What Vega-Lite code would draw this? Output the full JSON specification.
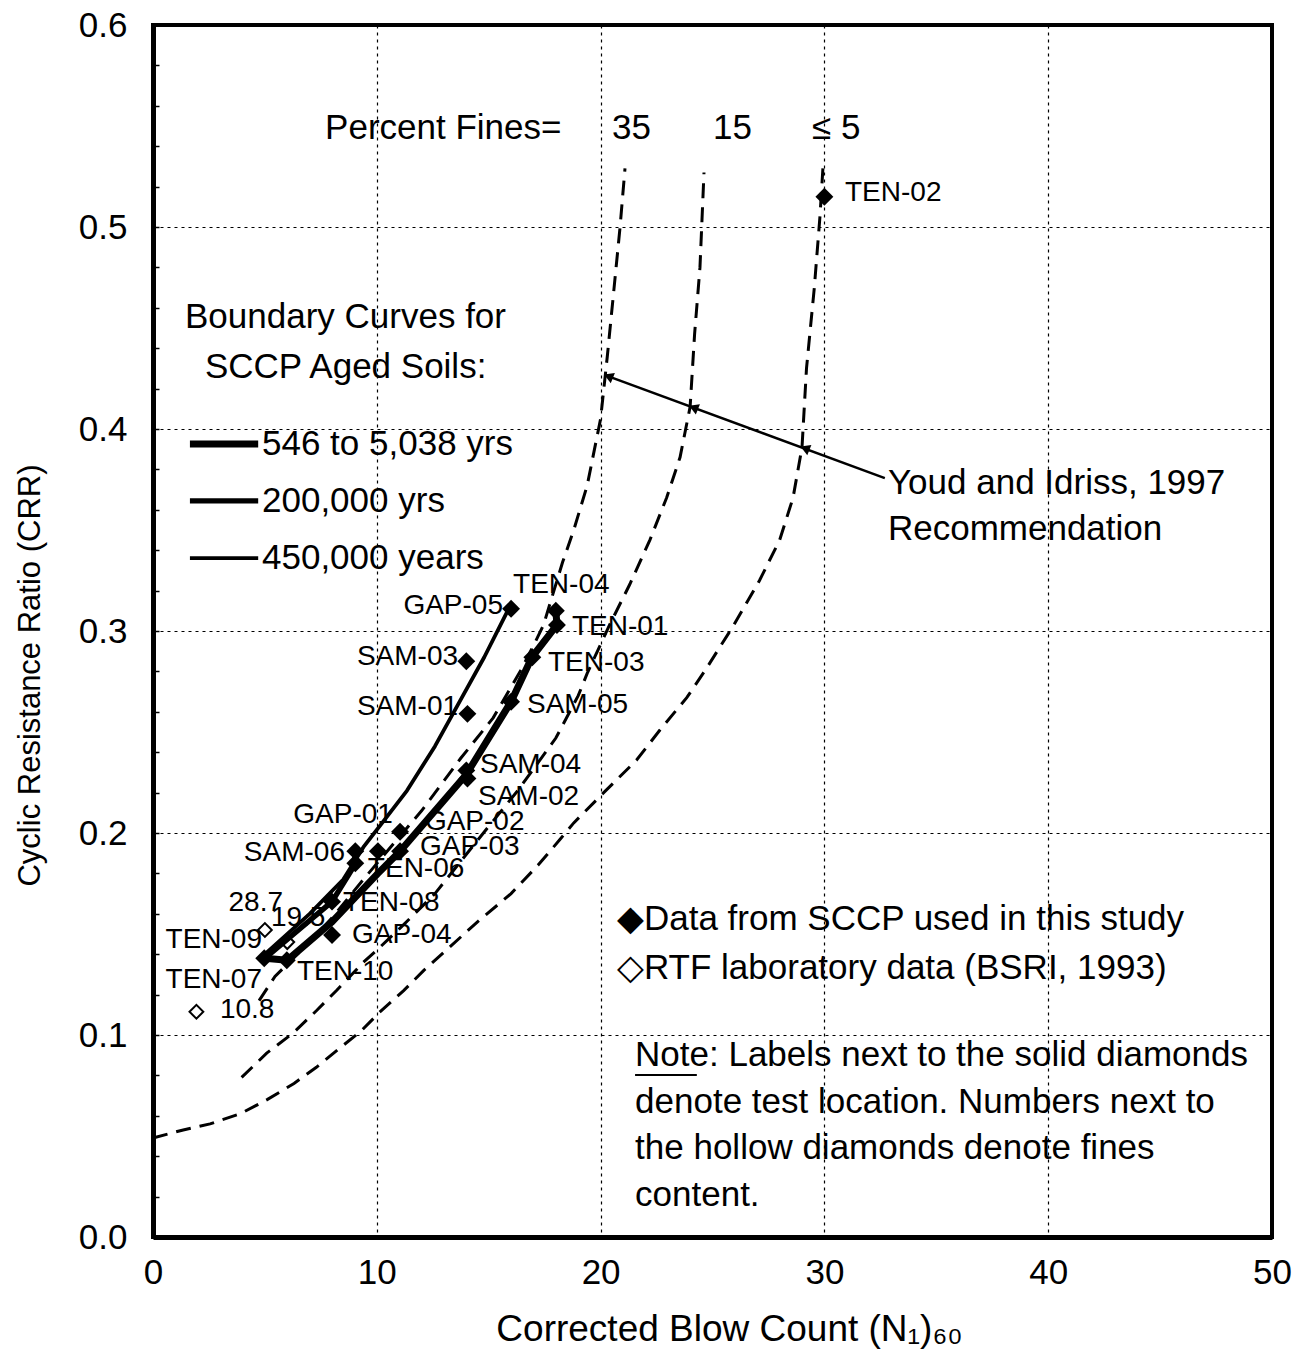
{
  "$schema": "https://vega.github.io/schema/vega-lite/v6.json",
  "width": 1119,
  "height": 1212,
  "autosize": {"type": "none"},
  "padding": {"left": 153, "top": 25, "right": 33, "bottom": 113},
  "background": "white",
  "config": {
    "font": "Liberation Sans",
    "view": {"stroke": "black", "strokeWidth": 4},
    "axis": {
      "domainColor": "black", "domainWidth": 5,
      "labelColor": "black", "titleColor": "black",
      "labelFont": "Liberation Sans", "titleFont": "Liberation Sans",
      "titleFontWeight": "normal",
      "gridColor": "black", "gridDash": [3, 4], "gridWidth": 1.2,
      "tickColor": "black"
    },
    "text": {"font": "Liberation Sans", "baseline": "middle", "color": "black"}
  },
  "datasets": {
    "curves": [
      {"curve": "5", "x": 0, "y": 0.049}, {"curve": "5", "x": 1.35, "y": 0.053}, {"curve": "5", "x": 2.55, "y": 0.056},
      {"curve": "5", "x": 3.9, "y": 0.061}, {"curve": "5", "x": 5.1, "y": 0.068}, {"curve": "5", "x": 6.3, "y": 0.076},
      {"curve": "5", "x": 7.3, "y": 0.084}, {"curve": "5", "x": 8.4, "y": 0.094}, {"curve": "5", "x": 9.3, "y": 0.102},
      {"curve": "5", "x": 10.1, "y": 0.111}, {"curve": "5", "x": 11.2, "y": 0.122}, {"curve": "5", "x": 12.1, "y": 0.132},
      {"curve": "5", "x": 13.2, "y": 0.143}, {"curve": "5", "x": 14.5, "y": 0.156}, {"curve": "5", "x": 16.0, "y": 0.170},
      {"curve": "5", "x": 17.2, "y": 0.184}, {"curve": "5", "x": 18.2, "y": 0.197}, {"curve": "5", "x": 18.8, "y": 0.205},
      {"curve": "5", "x": 20.05, "y": 0.219}, {"curve": "5", "x": 21.6, "y": 0.236}, {"curve": "5", "x": 22.65, "y": 0.251},
      {"curve": "5", "x": 23.85, "y": 0.267}, {"curve": "5", "x": 24.7, "y": 0.281}, {"curve": "5", "x": 25.9, "y": 0.302},
      {"curve": "5", "x": 27.1, "y": 0.325}, {"curve": "5", "x": 28.0, "y": 0.345}, {"curve": "5", "x": 28.6, "y": 0.366},
      {"curve": "5", "x": 29.0, "y": 0.391}, {"curve": "5", "x": 29.2, "y": 0.43}, {"curve": "5", "x": 29.55, "y": 0.47},
      {"curve": "5", "x": 29.8, "y": 0.505}, {"curve": "5", "x": 29.95, "y": 0.532},
      {"curve": "15", "x": 3.96, "y": 0.079}, {"curve": "15", "x": 5.08, "y": 0.091}, {"curve": "15", "x": 6.26, "y": 0.101},
      {"curve": "15", "x": 7.3, "y": 0.112}, {"curve": "15", "x": 8.2, "y": 0.122}, {"curve": "15", "x": 9.4, "y": 0.136},
      {"curve": "15", "x": 10.0, "y": 0.142}, {"curve": "15", "x": 11.05, "y": 0.153}, {"curve": "15", "x": 12.6, "y": 0.170},
      {"curve": "15", "x": 13.75, "y": 0.186}, {"curve": "15", "x": 15.2, "y": 0.206}, {"curve": "15", "x": 16.3, "y": 0.221},
      {"curve": "15", "x": 18.0, "y": 0.247}, {"curve": "15", "x": 19.0, "y": 0.268}, {"curve": "15", "x": 19.4, "y": 0.279},
      {"curve": "15", "x": 20.4, "y": 0.303}, {"curve": "15", "x": 21.3, "y": 0.323}, {"curve": "15", "x": 22.2, "y": 0.345},
      {"curve": "15", "x": 22.95, "y": 0.366}, {"curve": "15", "x": 23.55, "y": 0.386}, {"curve": "15", "x": 24.0, "y": 0.411},
      {"curve": "15", "x": 24.2, "y": 0.447}, {"curve": "15", "x": 24.44, "y": 0.48}, {"curve": "15", "x": 24.62, "y": 0.527},
      {"curve": "35", "x": 4.74, "y": 0.117}, {"curve": "35", "x": 5.45, "y": 0.129}, {"curve": "35", "x": 6.0, "y": 0.135},
      {"curve": "35", "x": 7.0, "y": 0.146}, {"curve": "35", "x": 8.0, "y": 0.158}, {"curve": "35", "x": 9.4, "y": 0.177},
      {"curve": "35", "x": 11.0, "y": 0.198}, {"curve": "35", "x": 12.0, "y": 0.211}, {"curve": "35", "x": 13.75, "y": 0.237},
      {"curve": "35", "x": 15.2, "y": 0.257}, {"curve": "35", "x": 16.46, "y": 0.281}, {"curve": "35", "x": 17.1, "y": 0.295},
      {"curve": "35", "x": 17.45, "y": 0.303}, {"curve": "35", "x": 18.3, "y": 0.334}, {"curve": "35", "x": 18.8, "y": 0.35},
      {"curve": "35", "x": 19.4, "y": 0.372}, {"curve": "35", "x": 20.0, "y": 0.405}, {"curve": "35", "x": 20.3, "y": 0.436},
      {"curve": "35", "x": 20.55, "y": 0.464}, {"curve": "35", "x": 20.87, "y": 0.5}, {"curve": "35", "x": 21.09, "y": 0.529}
    ],
    "boundary": [
      {"series": "546 to 5,038 yrs", "i": 1, "x": 5.0, "y": 0.138},
      {"series": "546 to 5,038 yrs", "i": 2, "x": 6.0, "y": 0.137},
      {"series": "546 to 5,038 yrs", "i": 3, "x": 8.0, "y": 0.156},
      {"series": "546 to 5,038 yrs", "i": 4, "x": 10.05, "y": 0.18},
      {"series": "546 to 5,038 yrs", "i": 5, "x": 11.04, "y": 0.191},
      {"series": "546 to 5,038 yrs", "i": 6, "x": 14.0, "y": 0.229},
      {"series": "546 to 5,038 yrs", "i": 7, "x": 16.0, "y": 0.265},
      {"series": "546 to 5,038 yrs", "i": 8, "x": 16.93, "y": 0.287},
      {"series": "546 to 5,038 yrs", "i": 9, "x": 18.05, "y": 0.303},
      {"series": "546 to 5,038 yrs", "i": 10, "x": 18.0, "y": 0.31},
      {"series": "200,000 yrs", "i": 1, "x": 5.0, "y": 0.138},
      {"series": "200,000 yrs", "i": 2, "x": 8.0, "y": 0.166},
      {"series": "200,000 yrs", "i": 3, "x": 9.0, "y": 0.184},
      {"series": "200,000 yrs", "i": 4, "x": 9.04, "y": 0.191},
      {"series": "450,000 years", "i": 1, "x": 5.0, "y": 0.14},
      {"series": "450,000 years", "i": 2, "x": 7.0, "y": 0.16},
      {"series": "450,000 years", "i": 3, "x": 8.5, "y": 0.177},
      {"series": "450,000 years", "i": 4, "x": 9.4, "y": 0.193},
      {"series": "450,000 years", "i": 5, "x": 10.24, "y": 0.205},
      {"series": "450,000 years", "i": 6, "x": 11.35, "y": 0.221},
      {"series": "450,000 years", "i": 7, "x": 12.6, "y": 0.243},
      {"series": "450,000 years", "i": 8, "x": 13.75, "y": 0.266},
      {"series": "450,000 years", "i": 9, "x": 14.8, "y": 0.287},
      {"series": "450,000 years", "i": 10, "x": 15.8, "y": 0.309},
      {"series": "450,000 years", "i": 11, "x": 16.0, "y": 0.311}
    ],
    "legendlines": [
      {"series": "546 to 5,038 yrs", "x": 1.65, "x2": 4.7, "y": 0.3926},
      {"series": "200,000 yrs", "x": 1.65, "x2": 4.7, "y": 0.3644},
      {"series": "450,000 years", "x": 1.65, "x2": 4.7, "y": 0.3361}
    ],
    "pointer": [
      {"x": 20.2, "y": 0.4267},
      {"x": 32.7, "y": 0.3757}
    ],
    "arrows": [
      {"x": 20.35, "y": 0.4261},
      {"x": 24.15, "y": 0.4106},
      {"x": 29.13, "y": 0.3904}
    ],
    "sccp": [
      {"x": 30, "y": 0.515}, {"x": 16, "y": 0.311}, {"x": 18, "y": 0.31}, {"x": 18.05, "y": 0.303},
      {"x": 14, "y": 0.285}, {"x": 16.95, "y": 0.287}, {"x": 14.05, "y": 0.259}, {"x": 16.0, "y": 0.265},
      {"x": 14.0, "y": 0.231}, {"x": 14.05, "y": 0.227}, {"x": 11.04, "y": 0.2006}, {"x": 9.04, "y": 0.191},
      {"x": 9.04, "y": 0.185}, {"x": 10.05, "y": 0.191}, {"x": 11.04, "y": 0.191}, {"x": 8.0, "y": 0.166},
      {"x": 8.0, "y": 0.1495}, {"x": 4.97, "y": 0.138}, {"x": 5.98, "y": 0.137}
    ],
    "rtf": [
      {"x": 5.0, "y": 0.152}, {"x": 6.0, "y": 0.146}, {"x": 1.94, "y": 0.1115}
    ],
    "labels": [
      {"t": "GAP-05", "side": "l", "x": 15.64, "y": 0.3124},
      {"t": "SAM-03", "side": "l", "x": 13.63, "y": 0.2871},
      {"t": "SAM-01", "side": "l", "x": 13.63, "y": 0.2624},
      {"t": "GAP-01", "side": "l", "x": 10.72, "y": 0.2089},
      {"t": "SAM-06", "side": "l", "x": 8.58, "y": 0.1901},
      {"t": "TEN-09", "side": "l", "x": 4.87, "y": 0.147},
      {"t": "TEN-07", "side": "l", "x": 4.87, "y": 0.1272},
      {"t": "28.7", "side": "l", "x": 5.81, "y": 0.1653},
      {"t": "TEN-02", "side": "r", "x": 30.92, "y": 0.5168},
      {"t": "TEN-04", "side": "r", "x": 16.09, "y": 0.3228},
      {"t": "TEN-01", "side": "r", "x": 18.72, "y": 0.302},
      {"t": "TEN-03", "side": "r", "x": 17.65, "y": 0.2842},
      {"t": "SAM-05", "side": "r", "x": 16.71, "y": 0.2634},
      {"t": "SAM-04", "side": "r", "x": 14.61, "y": 0.2337},
      {"t": "SAM-02", "side": "r", "x": 14.52, "y": 0.2178},
      {"t": "GAP-02", "side": "r", "x": 12.15, "y": 0.2054},
      {"t": "GAP-03", "side": "r", "x": 11.93, "y": 0.1931},
      {"t": "TEN-06", "side": "r", "x": 9.6, "y": 0.1822},
      {"t": "TEN-08", "side": "r", "x": 8.49, "y": 0.1653},
      {"t": "GAP-04", "side": "r", "x": 8.89, "y": 0.1495},
      {"t": "TEN-10", "side": "r", "x": 6.43, "y": 0.1312},
      {"t": "19.5", "side": "r", "x": 5.27, "y": 0.1579},
      {"t": "10.8", "side": "r", "x": 2.99, "y": 0.1124}
    ],
    "notes": [
      {"t": "Percent Fines=", "x": 7.69, "y": 0.549},
      {"t": "35", "x": 20.51, "y": 0.549},
      {"t": "15", "x": 25.02, "y": 0.549},
      {"t": "≤ 5", "x": 29.45, "y": 0.549},
      {"t": "Boundary Curves for", "x": 1.43, "y": 0.4554},
      {"t": "SCCP Aged Soils:", "x": 2.32, "y": 0.4307},
      {"t": "546 to 5,038 yrs", "x": 4.87, "y": 0.3926},
      {"t": "200,000 yrs", "x": 4.87, "y": 0.3644},
      {"t": "450,000 years", "x": 4.87, "y": 0.3361},
      {"t": "Youd and Idriss, 1997", "x": 32.84, "y": 0.3733},
      {"t": "Recommendation", "x": 32.84, "y": 0.3505},
      {"t": "◆Data from SCCP used in this study", "x": 20.73, "y": 0.1574},
      {"t": "◇RTF laboratory data (BSRI, 1993)", "x": 20.73, "y": 0.1332},
      {"t": "Note: Labels next to the solid diamonds", "x": 21.54, "y": 0.0901},
      {"t": "denote test location. Numbers next to", "x": 21.54, "y": 0.0668},
      {"t": "the hollow diamonds denote fines", "x": 21.54, "y": 0.0441},
      {"t": "content.", "x": 21.54, "y": 0.0208}
    ],
    "underline": [
      {"x": 21.54, "x2": 24.3, "y": 0.0802}
    ]
  },
  "encoding": {
    "x": {
      "field": "x", "type": "quantitative",
      "scale": {"domain": [0, 50], "nice": false, "zero": false},
      "axis": {
        "title": "Corrected Blow Count (N₁)₆₀",
        "titleFontSize": 37, "titleX": 576, "titleY": 103, "titleBaseline": "alphabetic",
        "values": [0, 10, 20, 30, 40, 50], "format": "d",
        "labelFontSize": 35, "labelPadding": 18, "ticks": false, "labelFlush": false,
        "grid": true
      }
    },
    "y": {
      "field": "y", "type": "quantitative",
      "scale": {"domain": [0, 0.6], "nice": false, "zero": false},
      "axis": {
        "title": "Cyclic Resistance Ratio (CRR)",
        "titleFontSize": 31, "titleX": -107, "titleY": 650,
        "values": [0, 0.02, 0.04, 0.06, 0.08, 0.1, 0.12, 0.14, 0.16, 0.18, 0.2, 0.22, 0.24, 0.26, 0.28, 0.3, 0.32, 0.34, 0.36, 0.38, 0.4, 0.42, 0.44, 0.46, 0.48, 0.5, 0.52, 0.54, 0.56, 0.58, 0.6],
        "labelExpr": "abs(datum.value*10 - round(datum.value*10)) < 0.001 ? format(datum.value, '.1f') : ''",
        "labelFontSize": 35, "labelPadding": 32, "labelFlush": false,
        "tickSize": -6, "tickWidth": 1.5,
        "grid": true,
        "gridOpacity": {"condition": {"test": "abs(datum.value*10 - round(datum.value*10)) < 0.001", "value": 1}, "value": 0}
      }
    }
  },
  "layer": [
    {
      "data": {"name": "curves"},
      "mark": {"type": "line", "color": "black", "strokeWidth": 3, "strokeDash": [15, 9]},
      "encoding": {"detail": {"field": "curve"}, "order": {"field": "y"}}
    },
    {
      "data": {"name": "boundary"},
      "mark": {"type": "line", "color": "black", "strokeJoin": "round", "strokeCap": "round"},
      "encoding": {
        "detail": {"field": "series"},
        "order": {"field": "i"},
        "strokeWidth": {"field": "series", "type": "nominal", "scale": {"domain": ["546 to 5,038 yrs", "200,000 yrs", "450,000 years"], "range": [7, 3.8, 1.7]}, "legend": null}
      }
    },
    {
      "data": {"name": "legendlines"},
      "mark": {"type": "rule", "color": "black"},
      "encoding": {
        "x2": {"field": "x2"},
        "strokeWidth": {"field": "series", "type": "nominal", "scale": {"domain": ["546 to 5,038 yrs", "200,000 yrs", "450,000 years"], "range": [7, 3.8, 1.7]}, "legend": null}
      }
    },
    {
      "data": {"name": "pointer"},
      "mark": {"type": "line", "color": "black", "strokeWidth": 2.5},
      "encoding": {"order": {"field": "x"}}
    },
    {
      "data": {"name": "arrows"},
      "mark": {"type": "point", "shape": "triangle-left", "filled": true, "color": "black", "size": 120, "angle": 22, "opacity": 1}
    },
    {
      "data": {"name": "sccp"},
      "mark": {"type": "point", "shape": "diamond", "filled": true, "color": "black", "size": 320, "opacity": 1}
    },
    {
      "data": {"name": "rtf"},
      "mark": {"type": "point", "shape": "diamond", "filled": false, "color": "black", "strokeWidth": 2, "size": 190, "opacity": 1}
    },
    {
      "data": {"name": "labels"},
      "transform": [{"filter": "datum.side == 'l'"}],
      "mark": {"type": "text", "align": "right", "fontSize": 28},
      "encoding": {"text": {"field": "t"}}
    },
    {
      "data": {"name": "labels"},
      "transform": [{"filter": "datum.side == 'r'"}],
      "mark": {"type": "text", "align": "left", "fontSize": 28},
      "encoding": {"text": {"field": "t"}}
    },
    {
      "data": {"name": "notes"},
      "mark": {"type": "text", "align": "left", "fontSize": 35},
      "encoding": {"text": {"field": "t"}}
    },
    {
      "data": {"name": "underline"},
      "mark": {"type": "rule", "color": "black", "strokeWidth": 2},
      "encoding": {"x2": {"field": "x2"}}
    }
  ]
}
